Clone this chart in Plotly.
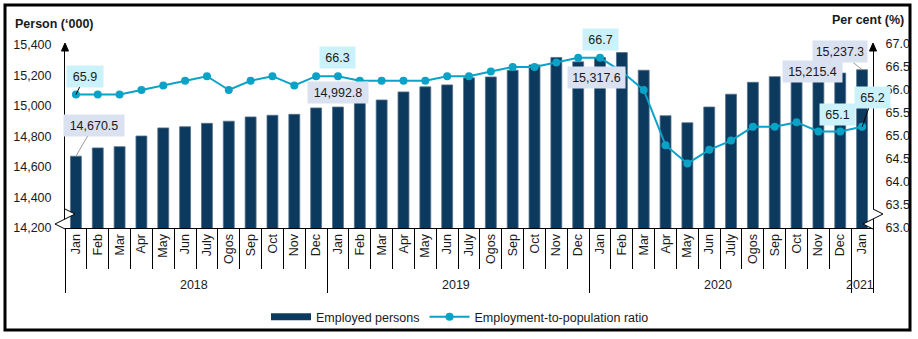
import plotly.graph_objects as go

# Monthly labour force figures, Jan 2018 - Jan 2021
month_names = ["Jan", "Feb", "Mar", "Apr", "May", "Jun", "July", "Ogos", "Sep", "Oct", "Nov", "Dec"]
year_names = ["2018", "2019", "2020", "2021"]
months_per_year = [12, 12, 12, 1]

# Employed persons ('000)
employed = [
    14670.5, 14725, 14733, 14803, 14856, 14864, 14886, 14900, 14928, 14939, 14945, 14987,
    14992.8, 15028, 15039, 15092, 15125, 15138, 15184, 15190, 15234, 15269, 15318, 15289,
    15317.6, 15350, 15234, 14936, 14890, 14993, 15077, 15155, 15192, 15208, 15196, 15215.4,
    15237.3,
]

# Employment-to-population ratio (%)
ratio = [
    65.9, 65.9, 65.9, 66.0, 66.1, 66.2, 66.3, 66.0, 66.2, 66.3, 66.1, 66.3,
    66.3, 66.2, 66.2, 66.2, 66.2, 66.3, 66.3, 66.4, 66.5, 66.5, 66.6, 66.7,
    66.7, 66.4, 66.0, 64.8, 64.4, 64.7, 64.9, 65.2, 65.2, 65.3, 65.1, 65.1,
    65.2,
]

left_ticks = [14200, 14400, 14600, 14800, 15000, 15200, 15400]
right_ticks = [63.0, 63.5, 64.0, 64.5, 65.0, 65.5, 66.0, 66.5, 67.0]

x_year = [y for y, n in zip(year_names, months_per_year) for _ in range(n)]
x_month = [m for n in months_per_year for m in month_names[:n]]

BAR = "#0b3a5e"
LINE = "#0aa2c6"
BOX_BAR = "#dae1f1"
BOX_RATIO = "#cbf1fa"
FONT = "Liberation Sans, Arial, sans-serif"
TXT = "#1a1a1a"

# plot area geometry (pixels)
W, H = 918, 339
L, R, T, B = 65, 45, 44, 111
PW, PH = W - L - R, H - T - B


def px(xp):
    return (xp - L) / PW


def py(yp):
    return (H - B - yp) / PH


fig = go.Figure()

fig.add_trace(go.Bar(
    x=[x_year, x_month], y=employed, name="Employed persons",
    marker=dict(color=BAR, line=dict(color="#55718b", width=0.8)),
    width=0.5, showlegend=False, legendgroup="emp", yaxis="y",
))
# legend swatch for the bars (wide flat bar symbol)
fig.add_trace(go.Scatter(
    x=[None], y=[None], mode="lines", name="Employed persons",
    line=dict(color=BAR, width=7), legendgroup="emp", showlegend=True,
))
fig.add_trace(go.Scatter(
    x=[x_year, x_month], y=ratio, name="Employment-to-population ratio",
    mode="lines+markers", line=dict(color=LINE, width=2),
    marker=dict(color=LINE, size=8), yaxis="y2",
))

annotations = []


def label(i, text, yref, bg, xshift=0, yshift=0, ax=None, ay=None, arrow="#000", w=50):
    val = employed[i] if yref == "y" else ratio[i]
    a = dict(x=i, y=val, xref="x", yref=yref, text=text,
             font=dict(family=FONT, size=12.5, color=TXT),
             bgcolor=bg, borderpad=3.5, width=w, height=14)
    if ax is None:
        a.update(showarrow=False, xshift=xshift, yshift=yshift)
    else:
        a.update(showarrow=True, ax=ax, ay=ay, arrowhead=0, arrowwidth=1,
                 arrowcolor=arrow, standoff=0)
    annotations.append(a)


def emp_text(i):
    return f"{employed[i]:,.1f}"


def ratio_text(i):
    return f"{ratio[i]:.1f}"


label(0, emp_text(0), "y", BOX_BAR, ax=18, ay=-31, arrow="#9a9a9a", w=53)
label(12, emp_text(12), "y", BOX_BAR, yshift=15, w=53)
label(24, emp_text(24), "y", BOX_BAR, xshift=-4, yshift=-20, w=50)
label(35, emp_text(35), "y", BOX_BAR, xshift=-28, yshift=2, w=52)
label(36, emp_text(36), "y", BOX_BAR, ax=-22, ay=-18, arrow="#9a9a9a", w=47)

label(0, ratio_text(0), "y2", BOX_RATIO, ax=9, ay=-18.5, w=29)
label(12, ratio_text(12), "y2", BOX_RATIO, yshift=19, w=28)
label(24, ratio_text(24), "y2", BOX_RATIO, yshift=18, w=28)
label(35, ratio_text(35), "y2", BOX_RATIO, xshift=-2.5, yshift=17, w=28)
label(36, ratio_text(36), "y2", BOX_RATIO, ax=10.5, ay=-29.5, w=28)

# axis titles
annotations.append(dict(x=px(13), y=py(24), xref="paper", yref="paper", xanchor="left",
                        yanchor="middle", showarrow=False, text="<b>Person (‘000)</b>",
                        font=dict(family=FONT, size=12.5, color=TXT)))
annotations.append(dict(x=px(906), y=py(20), xref="paper", yref="paper", xanchor="right",
                        yanchor="middle", showarrow=False, text="<b>Per cent (%)</b>",
                        font=dict(family=FONT, size=12.5, color=TXT)))

shapes = []
# outer frame
shapes.append(dict(type="rect", xref="paper", yref="paper",
                   x0=px(5), x1=px(910), y0=py(330), y1=py(5),
                   line=dict(color="#000", width=3), fillcolor="rgba(0,0,0,0)", layer="above"))

# axis arrowheads and axis-break marks on both y axes
for xa in (0, 1):
    shapes.append(dict(type="path", xref="paper", yref="paper",
                       xsizemode="pixel", ysizemode="pixel", xanchor=xa, yanchor=1,
                       path="M 0,1 L -3.5,-7 L 3.5,-7 Z",
                       fillcolor="#000", line=dict(color="#000", width=1), layer="above"))
    shapes.append(dict(type="path", xref="paper", yref="paper",
                       xsizemode="pixel", ysizemode="pixel", xanchor=xa, yanchor=0,
                       path="M 0,19 L 10,14 L 0,9 L -10,4 L 0,-1",
                       fillcolor="#fff", line=dict(color="#000", width=1), layer="above"))

fig.update_layout(
    width=W, height=H,
    margin=dict(l=L, r=R, t=T, b=B, autoexpand=False),
    paper_bgcolor="#fff", plot_bgcolor="#fff",
    font=dict(family=FONT, size=12.5, color=TXT),
    bargap=0.5,
    xaxis=dict(
        type="multicategory", range=[-0.5, 36.5], tickangle=-90,
        showline=True, linecolor="#000", linewidth=1,
        ticks="outside", ticklen=40, tickcolor="#000", tickwidth=1,
        showdividers=True, dividercolor="#000", dividerwidth=1,
        showgrid=False, zeroline=False,
        tickfont=dict(family=FONT, size=12.5, color=TXT),
    ),
    yaxis=dict(
        range=[14200, 15406], tickvals=left_ticks, tickformat=",",
        showline=True, linecolor="#000", linewidth=1, ticks="",
        ticklabelstandoff=10,
        showgrid=False, zeroline=False,
        tickfont=dict(family=FONT, size=12.5, color=TXT),
    ),
    yaxis2=dict(
        range=[63, 67], tickvals=right_ticks, tickformat=".1f",
        overlaying="y", side="right",
        showline=True, linecolor="#000", linewidth=1, ticks="",
        ticklabelstandoff=9,
        showgrid=False, zeroline=False,
        tickfont=dict(family=FONT, size=12.5, color=TXT),
    ),
    legend=dict(
        orientation="h", xref="paper", yref="paper",
        x=px(460), y=py(317), xanchor="center", yanchor="middle",
        font=dict(family=FONT, size=12.5, color=TXT),
        bgcolor="rgba(0,0,0,0)", itemwidth=40, tracegroupgap=0,
    ),
    annotations=annotations,
    shapes=shapes,
)

fig.write_html("out.html")
